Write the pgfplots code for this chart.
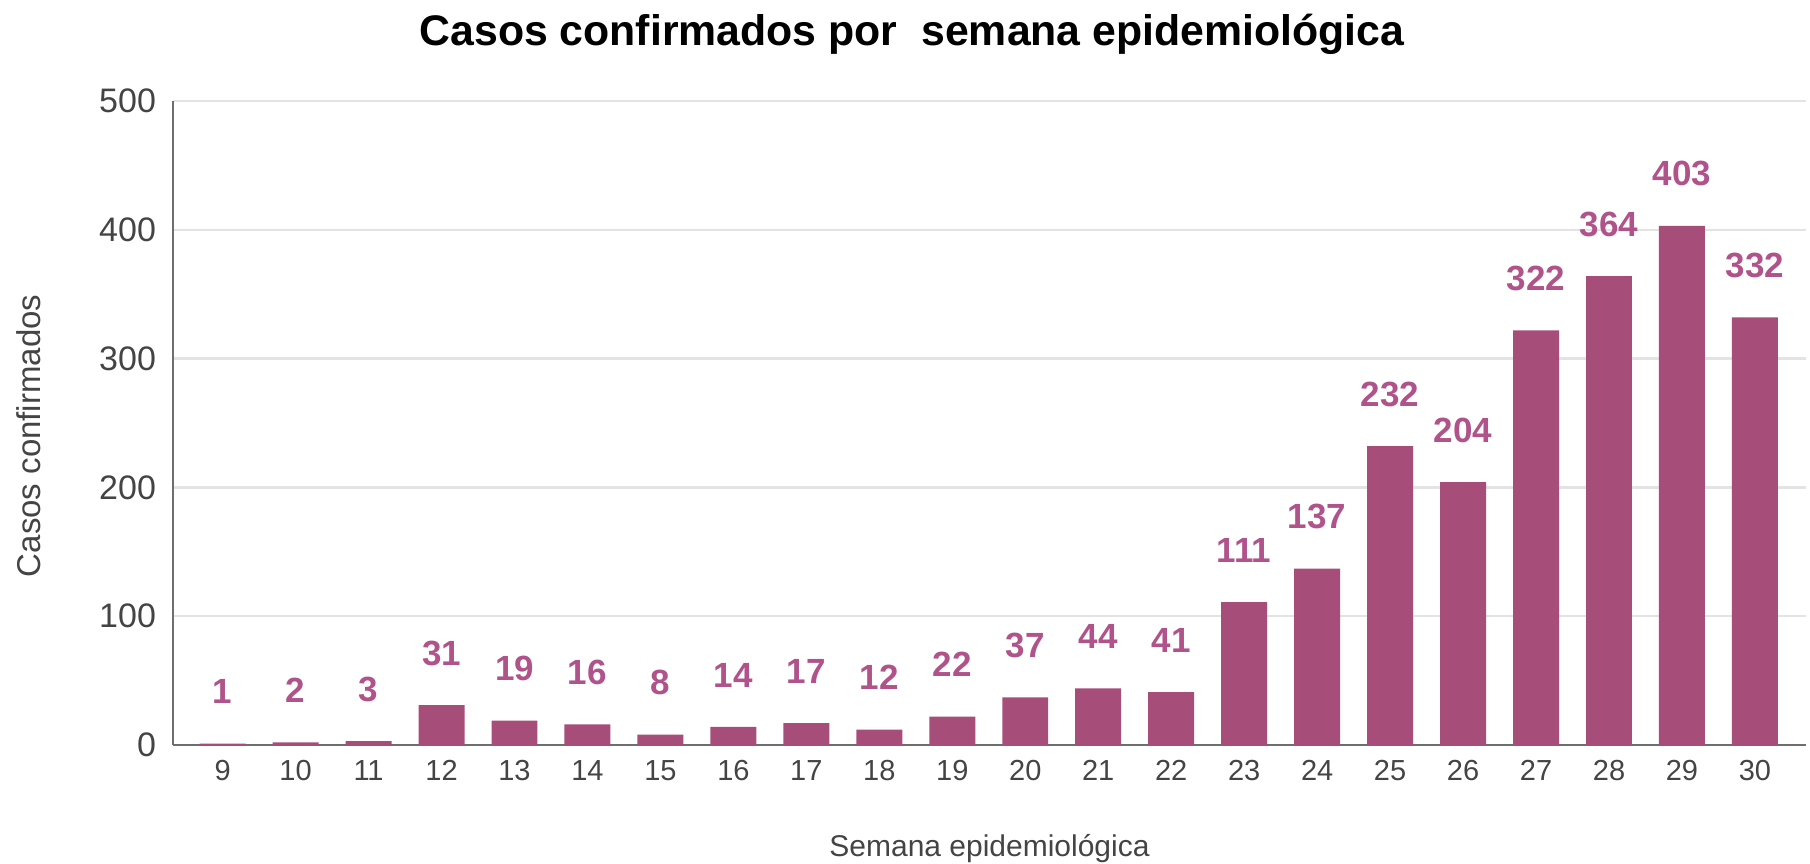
\documentclass[border=0pt]{standalone}
\usepackage{fontspec}
\setmainfont{Liberation Sans}
\usepackage{pgfplots}
\pgfplotsset{compat=1.18}

\definecolor{barcol}{HTML}{A64D79}
\definecolor{labcol}{HTML}{B0538A}
\definecolor{gridcol}{HTML}{E3E3E3}
\definecolor{axcol}{HTML}{6E6E6E}
\definecolor{tickcol}{HTML}{444444}

\begin{document}
\begin{tikzpicture}
  \path[use as bounding box] (0,0) rectangle (905pt,431.5pt);
  \begin{axis}[
      at={(86.5pt,59pt)}, anchor=south west,
      scale only axis,
      width=816.5pt, height=322pt,
      ybar, bar width=0.63,
      xmin=-0.68, xmax=21.7,
      ymin=0, ymax=500,
      ytick={0,100,200,300,400,500},
      xtick=data,
      xticklabels={9,10,11,12,13,14,15,16,17,18,19,20,21,22,23,24,25,26,27,28,29,30},
      /pgf/number format/assume math mode=true,
      tick label style={text=tickcol},
      xticklabel style={font=\fontsize{14.5}{16}\selectfont, yshift=-4pt},
      yticklabel style={font=\fontsize{17}{18}\selectfont, xshift=-5pt},
      major tick length=0pt,
      axis x line*=bottom, axis y line*=left,
      axis line style={axcol, line width=1.2pt},
      ymajorgrids, grid style={gridcol, line width=1.2pt},
      title={Casos confirmados por\ \ semana epidemiológica},
      title style={font=\bfseries\fontsize{21.4}{24}\selectfont, at={(axis description cs:0.4525,1)}, anchor=center, yshift=27.3pt},
      xlabel={Semana epidemiológica},
      xlabel style={font=\fontsize{15}{17}\selectfont, text=tickcol, at={(axis description cs:0.5,0)}, anchor=center, yshift=-52pt},
      ylabel={Casos confirmados},
      ylabel style={font=\fontsize{16.5}{18}\selectfont, text=tickcol, at={(axis description cs:-0.0882,0.48)}, anchor=center},
      nodes near coords,
      nodes near coords style={font=\bfseries\fontsize{17.5}{19}\selectfont, text=labcol, anchor=center, yshift=26pt},
    ]
    \addplot[fill=barcol, draw=none] coordinates {
      (0,1) (1,2) (2,3) (3,31) (4,19) (5,16) (6,8) (7,14) (8,17) (9,12) (10,22)
      (11,37) (12,44) (13,41) (14,111) (15,137) (16,232) (17,204) (18,322)
      (19,364) (20,403) (21,332)
    };
  \end{axis}
\end{tikzpicture}
\end{document}
